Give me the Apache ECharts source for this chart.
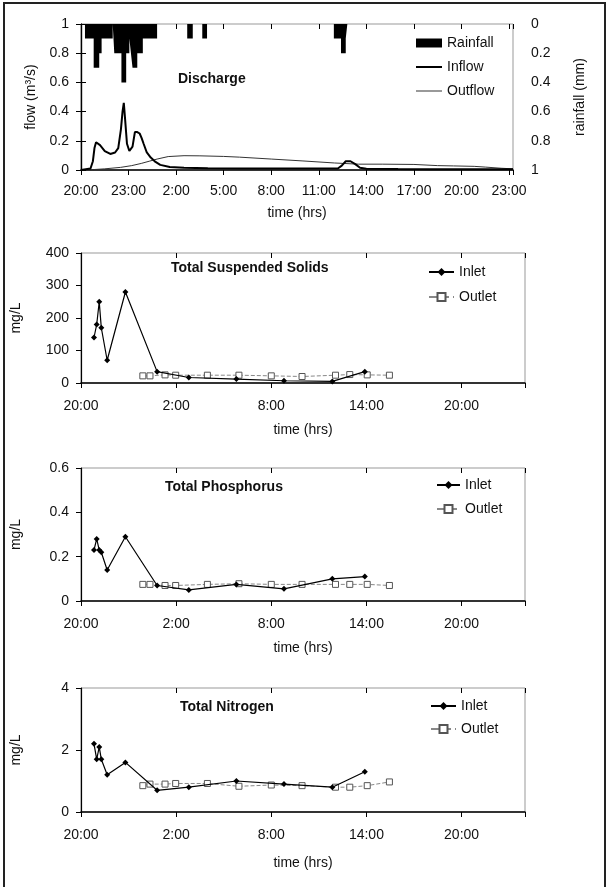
<!DOCTYPE html>
<html lang="en">
<head>
    <meta charset="utf-8"/>
    <title>Discharge and water quality</title>
    <script src="https://cdn.jsdelivr.net/npm/echarts@6/dist/echarts.min.js"></script>
    <style>
        html, body { margin: 0; padding: 0; background: #fff; }
        #chart { width: 607px; height: 887px; }
    </style>
</head>
<body>
<div id="chart"></div>
<script>
    // time is in hours counted from 20:00 on the first day
    // discharge panel
    var rainT  = [0, 0.25, 0.8, 1.15, 1.3, 2.0, 2.1, 2.55, 2.85, 3.05, 3.15, 3.25, 3.55, 3.9, 4.8, 6.7, 7.05, 7.65, 7.95, 15.95, 16.4, 16.7, 16.8, 27.25];
    var rainMm = [0, 0.1, 0.3, 0.2, 0.1, 0, 0.2, 0.4, 0.2, 0.1, 0.2, 0.3, 0.2, 0.1, 0, 0.1, 0, 0.1, 0, 0.1, 0.2, 0.1, 0, 0];

    var inflowT = [0, 0.6, 0.75, 0.85, 0.95, 1.05, 1.2, 1.5, 1.85, 2.15, 2.35, 2.52, 2.62, 2.7, 2.78, 2.9, 3.05, 3.25, 3.4, 3.55, 3.7, 3.82, 3.95, 4.15, 4.4, 4.7, 5.0, 5.6, 6.5, 8, 10, 12, 14, 15.5, 16.2, 16.45, 16.7, 17.0, 17.3, 17.6, 18, 20, 22, 24, 26, 27.25];
    var inflowQ = [0, 0.01, 0.06, 0.15, 0.19, 0.2, 0.17, 0.13, 0.11, 0.12, 0.15, 0.28, 0.4, 0.46, 0.35, 0.18, 0.13, 0.16, 0.26, 0.26, 0.25, 0.22, 0.18, 0.12, 0.085, 0.055, 0.035, 0.02, 0.015, 0.012, 0.01, 0.01, 0.01, 0.01, 0.01, 0.03, 0.06, 0.06, 0.04, 0.015, 0.008, 0.006, 0.005, 0.005, 0.005, 0.005];

    var outflowT = [0, 0.8, 1.5, 2.5, 3.2, 3.8, 4.3, 4.8, 5.5, 6.5, 7.5, 9, 10, 12, 14, 16, 17.5, 19, 21, 22.5, 23.5, 24.8, 25.5, 26.5, 27.25];
    var outflowQ = [0, 0.003, 0.008, 0.018, 0.03, 0.045, 0.06, 0.075, 0.092, 0.098, 0.097, 0.093, 0.088, 0.075, 0.062, 0.048, 0.04, 0.04, 0.038, 0.03, 0.028, 0.025, 0.02, 0.012, 0.008];

    // water quality samples
    var inletT  = [0.82, 0.99, 1.15, 1.28, 1.65, 2.8, 4.8, 6.8, 9.8, 12.8, 15.85, 17.9];
    var outletT = [3.9, 4.35, 5.3, 5.97, 7.97, 9.96, 12.0, 13.94, 16.05, 16.95, 18.05, 19.45];

    var tssIn  = [140, 180, 250, 170, 70, 280, 35, 17, 12, 7, 5, 35];
    var tssOut = [22, 22, 25, 24, 24, 24, 22, 20, 24, 26, 25, 24];
    var tpIn   = [0.23, 0.28, 0.23, 0.22, 0.14, 0.29, 0.07, 0.05, 0.075, 0.055, 0.1, 0.11];
    var tpOut  = [0.075, 0.075, 0.07, 0.07, 0.075, 0.078, 0.075, 0.075, 0.075, 0.075, 0.075, 0.07];
    var tnIn   = [2.2, 1.7, 2.1, 1.7, 1.2, 1.6, 0.7, 0.8, 1.0, 0.9, 0.8, 1.3];
    var tnOut  = [0.85, 0.9, 0.9, 0.92, 0.92, 0.83, 0.87, 0.85, 0.8, 0.8, 0.85, 0.97];

    var FONT = 'Liberation Sans, Arial, sans-serif';
    var INK = '#111';

    function pairs(xs, ys) {
        var out = [];
        for (var i = 0; i < xs.length; i++) out.push([xs[i], ys[i]]);
        return out;
    }

    function hourLabel(step) {
        return function (v) {
            if (Math.abs(v % step) > 1e-6) return '';
            return ((20 + v) % 24) + ':00';
        };
    }

    var grids = [
        {left: 81, top: 24, width: 432, height: 146},
        {left: 81, top: 253, width: 444, height: 130},
        {left: 81, top: 468, width: 444, height: 133},
        {left: 81, top: 688, width: 444, height: 124}
    ];

    function timeAxis(g, max, step, margin, gap) {
        return {
            type: 'value', gridIndex: g, min: 0, max: max, interval: step,
            name: 'time (hrs)', nameLocation: 'middle', nameGap: gap,
            nameTextStyle: {fontFamily: FONT, fontSize: 14, color: INK},
            axisLine: {show: true, lineStyle: {color: '#000', width: 1.5}},
            axisTick: {show: true, length: 5, lineStyle: {color: '#000'}},
            axisLabel: {fontFamily: FONT, fontSize: 14, color: INK, margin: margin, formatter: hourLabel(step)},
            splitLine: {show: false}
        };
    }

    // second axis per grid only to get ticks that cross the line
    function tickAxis(g, max, step) {
        return {
            type: 'value', gridIndex: g, min: 0, max: max, interval: step,
            axisLine: {show: false},
            axisTick: {show: true, inside: true, length: 5, lineStyle: {color: '#000'}},
            axisLabel: {show: false},
            splitLine: {show: false}
        };
    }

    function valueAxis(g, max, step, name, gap) {
        return {
            type: 'value', gridIndex: g, min: 0, max: max, interval: step,
            name: name, nameLocation: 'middle', nameGap: gap, nameRotate: 90,
            nameTextStyle: {fontFamily: FONT, fontSize: 14, color: INK},
            axisLine: {show: true, lineStyle: {color: '#000', width: 1.2}},
            axisTick: {show: true, length: 5, lineStyle: {color: '#000'}},
            axisLabel: {fontFamily: FONT, fontSize: 14, color: INK, margin: 12},
            splitLine: {show: false}
        };
    }

    var rightRain = valueAxis(0, 1, 0.2, 'rainfall (mm)', 60);
    rightRain.position = 'right';
    rightRain.inverse = true;
    rightRain.axisLabel.margin = 18;

    function inletSeries(x, y, data) {
        return {
            name: 'Inlet', type: 'line', xAxisIndex: x, yAxisIndex: y, data: data,
            symbol: 'diamond', symbolSize: 6, itemStyle: {color: '#000'},
            lineStyle: {color: '#000', width: 1.2}, z: 3
        };
    }

    function outletSeries(x, y, data) {
        return {
            name: 'Outlet', type: 'line', xAxisIndex: x, yAxisIndex: y, data: data,
            symbol: 'rect', symbolSize: 6,
            itemStyle: {color: '#fff', borderColor: '#555', borderWidth: 1},
            lineStyle: {color: '#888', width: 1, type: 'dashed'}, z: 2
        };
    }

    function qualityLegend(left, top, gap, w) {
        return {
            data: ['Inlet', 'Outlet'], orient: 'vertical', left: left, top: top,
            itemWidth: w, itemHeight: 10, itemGap: gap,
            textStyle: {fontFamily: FONT, fontSize: 14, color: INK}
        };
    }

    // flat legend keys for the discharge panel (plain bars / lines, no markers)
    function flatLegend(name, top, h, color) {
        return {
            data: [{name: name, icon: 'rect', itemStyle: {color: color}}],
            left: 411, top: top, itemWidth: 26, itemHeight: h, itemGap: 0,
            textStyle: {fontFamily: FONT, fontSize: 14, color: INK}
        };
    }

    function panelTitle(text, left, top) {
        return {
            text: text, left: left, top: top, padding: 0,
            textStyle: {fontFamily: FONT, fontSize: 14, fontWeight: 'bold', color: INK}
        };
    }

    var chart = echarts.init(document.getElementById('chart'));
    var option = {
        backgroundColor: '#fff',
        animation: false,
        textStyle: {fontFamily: FONT},
        title: [
            panelTitle('Discharge', 178, 72),
            panelTitle('Total Suspended Solids', 171, 261),
            panelTitle('Total Phosphorus', 165, 480),
            panelTitle('Total Nitrogen', 180, 700)
        ],
        legend: [
            flatLegend('Rainfall', 31, 9, '#000'),
            flatLegend('Inflow', 55, 2, '#000'),
            flatLegend('Outflow', 79, 1, '#333'),
            qualityLegend(423, 260, 11, 25),
            qualityLegend(431, 473, 10, 23),
            qualityLegend(425, 694, 9, 25)
        ],
        grid: grids.map(function (g) {
            return {left: g.left, top: g.top, width: g.width, height: g.height,
                show: true, borderColor: '#999', borderWidth: 1, containLabel: false};
        }),
        xAxis: [
            timeAxis(0, 27.25, 3, 14, 36),
            timeAxis(1, 28, 6, 16, 40),
            timeAxis(2, 28, 6, 16, 40),
            timeAxis(3, 28, 6, 16, 44),
            tickAxis(0, 27.25, 3),
            tickAxis(1, 28, 6),
            tickAxis(2, 28, 6),
            tickAxis(3, 28, 6)
        ],
        yAxis: [
            valueAxis(0, 1, 0.2, 'flow (m³/s)', 37),
            rightRain,
            valueAxis(1, 400, 100, 'mg/L', 58),
            valueAxis(2, 0.6, 0.2, 'mg/L', 58),
            valueAxis(3, 4, 2, 'mg/L', 58)
        ],
        series: [
            {
                name: 'Rainfall', type: 'line', xAxisIndex: 0, yAxisIndex: 1,
                data: pairs(rainT, rainMm), step: 'end', symbol: 'none',
                lineStyle: {width: 0, color: '#000'},
                itemStyle: {color: '#000'},
                areaStyle: {color: '#000', opacity: 1}, z: 1
            },
            {
                name: 'Inflow', type: 'line', xAxisIndex: 0, yAxisIndex: 0,
                data: pairs(inflowT, inflowQ), symbol: 'none',
                itemStyle: {color: '#000'},
                lineStyle: {color: '#000', width: 2}, z: 3
            },
            {
                name: 'Outflow', type: 'line', xAxisIndex: 0, yAxisIndex: 0,
                data: pairs(outflowT, outflowQ), symbol: 'none',
                itemStyle: {color: '#333'},
                lineStyle: {color: '#333', width: 1}, z: 2
            },
            inletSeries(1, 2, pairs(inletT, tssIn)),
            outletSeries(1, 2, pairs(outletT, tssOut)),
            inletSeries(2, 3, pairs(inletT, tpIn)),
            outletSeries(2, 3, pairs(outletT, tpOut)),
            inletSeries(3, 4, pairs(inletT, tnIn)),
            outletSeries(3, 4, pairs(outletT, tnOut))
        ],
        graphic: [
            {
                type: 'rect', silent: true,
                shape: {x: 4, y: 3, width: 601, height: 900},
                style: {fill: 'none', stroke: '#222', lineWidth: 2}
            }
        ]
    };
    chart.setOption(option);
</script>
</body>
</html>
